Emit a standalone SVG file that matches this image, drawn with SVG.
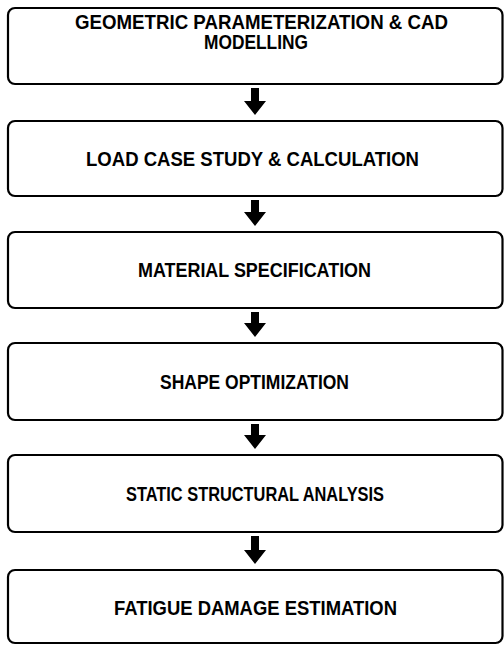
<svg xmlns="http://www.w3.org/2000/svg" width="504" height="645" viewBox="0 0 504 645">
<style>
.box{fill:#fff;stroke:#000;stroke-width:2.2}
.t{font-family:"Liberation Sans",Arial,sans-serif;font-weight:bold;font-size:19.5px;fill:#000}
.arr{fill:#000}
</style>
<rect width="504" height="645" fill="#fff"/>
<g id="n1"><rect class="box" x="8" y="8" width="494.5" height="76" rx="7"/>
<text class="t" x="75" y="29" textLength="373" lengthAdjust="spacingAndGlyphs">GEOMETRIC PARAMETERIZATION &amp; CAD</text>
<text class="t" x="204" y="49" textLength="104" lengthAdjust="spacingAndGlyphs">MODELLING</text></g>
<g id="n2"><rect class="box" x="8" y="121" width="494.5" height="75" rx="7"/>
<text class="t" x="86" y="166" textLength="333" lengthAdjust="spacingAndGlyphs">LOAD CASE STUDY &amp; CALCULATION</text></g>
<g id="n3"><rect class="box" x="8" y="232" width="494.5" height="76" rx="7"/>
<text class="t" x="138" y="277" textLength="233" lengthAdjust="spacingAndGlyphs">MATERIAL SPECIFICATION</text></g>
<g id="n4"><rect class="box" x="8" y="343" width="494.5" height="77" rx="7"/>
<text class="t" x="160" y="389" textLength="189" lengthAdjust="spacingAndGlyphs">SHAPE OPTIMIZATION</text></g>
<g id="n5"><rect class="box" x="8" y="455" width="494.5" height="77" rx="7"/>
<text class="t" x="126" y="501" textLength="258" lengthAdjust="spacingAndGlyphs">STATIC STRUCTURAL ANALYSIS</text></g>
<g id="n6"><rect class="box" x="8" y="570" width="494.5" height="73" rx="7"/>
<text class="t" x="114" y="615" textLength="283" lengthAdjust="spacingAndGlyphs">FATIGUE DAMAGE ESTIMATION</text></g>
<g id="connectors">
<polygon class="arr" points="251,88 259,88 259,101 266,101 255,115 244,101 251,101"/>
<polygon class="arr" points="251,200 259,200 259,212 266,212 255,226 244,212 251,212"/>
<polygon class="arr" points="251,312 259,312 259,323 266,323 255,337 244,323 251,323"/>
<polygon class="arr" points="251,424 259,424 259,435 266,435 255,449 244,435 251,435"/>
<polygon class="arr" points="251,536 259,536 259,550 266,550 255,564 244,550 251,550"/>
</g>
</svg>
